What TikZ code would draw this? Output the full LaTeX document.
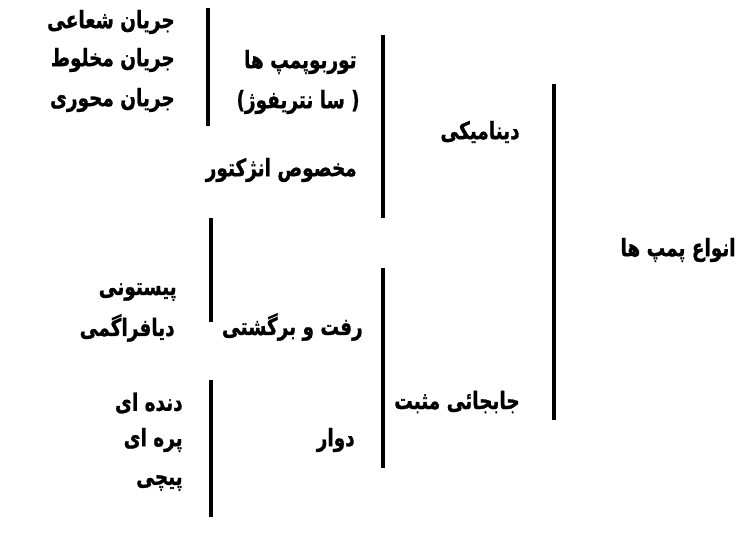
\documentclass[tikz,border=0pt]{standalone}
\usepackage{fontspec}
\usepackage{tikz}
\newfontfamily\farsi[Script=Arabic, BoldFeatures={FakeBold=1.2}]{DejaVu Sans}
\TeXXeTstate=1
\newcommand{\fa}[1]{\scalebox{1}[1.3]{\farsi\bfseries\beginR #1\endR}}

\begin{document}
\begin{tikzpicture}[x=0.02cm, y=-0.02cm,
    lbl/.style={anchor=east, inner sep=0pt, font=\fontsize{10.5}{12}\selectfont},
    bar/.style={line width=2.1pt}]
    \useasboundingbox (0,0) rectangle (748,537);

    % Root
    \node[lbl] (types) at (736,250) {\fa{انواع پمپ ها}};
    \draw[bar] (554,84) -- (554,420);

    % Main groups
    \node[lbl] (dynamic) at (520,132) {\fa{دینامیکی}};
    \node[lbl] (positive) at (520,402) {\fa{جابجائی مثبت}};
    \draw[bar] (383,35) -- (383,218);
    \draw[bar] (383,268) -- (383,468);

    % Dynamic pumps
    \node[lbl] (turbo) at (357,62) {\fa{توربوپمپ ها}};
    \node[lbl] (centri) at (360,102) {\fa{( سا نتریفوژ)}};
    \node[lbl] (injector) at (357,170) {\fa{مخصوص انژکتور}};
    \draw[bar] (208,8) -- (208,126);
    \node[lbl] (radial) at (175,22) {\fa{جریان شعاعی}};
    \node[lbl] (mixed) at (175,60) {\fa{جریان مخلوط}};
    \node[lbl] (axial) at (175,100) {\fa{جریان محوری}};

    % Positive displacement pumps
    \node[lbl] (recip) at (363,327) {\fa{رفت و برگشتی}};
    \node[lbl] (rotary) at (355,440) {\fa{دوار}};
    \draw[bar] (211,218) -- (211,322);
    \node[lbl] (piston) at (177,292) {\fa{پیستونی}};
    \node[lbl] (diaphragm) at (175,328) {\fa{دیافراگمی}};
    \draw[bar] (211,380) -- (211,517);
    \node[lbl] (gear) at (183,403) {\fa{دنده ای}};
    \node[lbl] (vane) at (183,440) {\fa{پره ای}};
    \node[lbl] (screw) at (183,483) {\fa{پیچی}};
\end{tikzpicture}
\end{document}
